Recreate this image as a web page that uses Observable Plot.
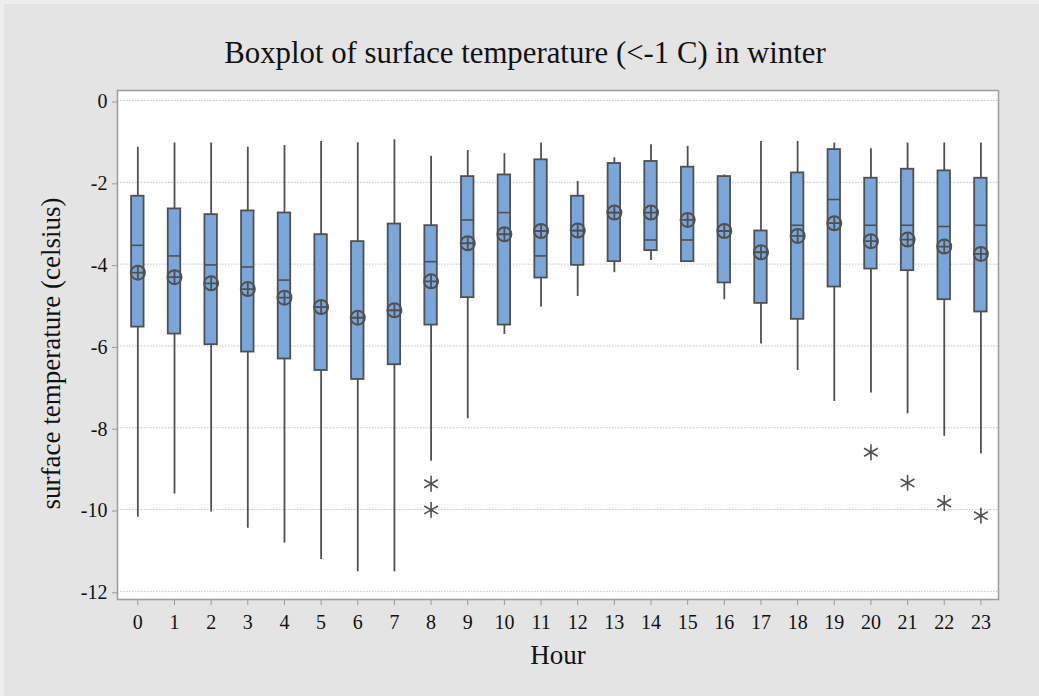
<!DOCTYPE html>
<html>
<head>
<meta charset="utf-8">
<script src="https://cdn.jsdelivr.net/npm/d3@7"></script>
<script src="https://cdn.jsdelivr.net/npm/@observablehq/plot@0.6"></script>
<style>
  html, body { margin: 0; padding: 0; overflow: hidden; }
  body { width: 1039px; height: 696px; background: #efefef; position: relative; }
  #page { position: absolute; left: 4px; top: 4px; width: 1035px; height: 692px; background: #e4e4e4; }
  #title { position: absolute; left: 0; top: 38px; width: 1050px; text-align: center;
           font-family: "Liberation Serif", serif; font-size: 30.8px; line-height: 30.8px; color: #111; }
  #chart { position: absolute; left: 0; top: 80px; }
  #chart svg { background: transparent; overflow: visible; }
</style>
</head>
<body>
<div id="page"></div>
<div id="title"></div>
<div id="chart"></div>
<script>
// ---- data ----
const hours = [0,1,2,3,4,5,6,7,8,9,10,11,12,13,14,15,16,17,18,19,20,21,22,23];
const whiskerHigh = [-1.14,-1.04,-1.04,-1.14,-1.10,-1.00,-1.03,-0.96,-1.36,-1.22,-1.30,-1.04,-1.98,-1.40,-1.08,-1.12,-1.82,-1.00,-1.00,-1.04,-1.18,-1.04,-1.04,-1.04];
const q3 = [-2.34,-2.65,-2.79,-2.70,-2.75,-3.28,-3.45,-3.02,-3.06,-1.86,-1.82,-1.45,-2.34,-1.54,-1.49,-1.63,-1.86,-3.19,-1.77,-1.20,-1.90,-1.68,-1.72,-1.90];
const median = [-3.54,-3.80,-4.02,-4.07,-4.39,-5.05,-5.31,-5.13,-3.94,-2.92,-2.74,-3.80,-3.18,-2.74,-3.41,-3.41,-3.19,-3.71,-3.05,-2.42,-3.05,-3.05,-3.08,-3.05];
const q1 = [-5.54,-5.71,-5.97,-6.15,-6.32,-6.60,-6.82,-6.46,-5.49,-4.82,-5.49,-4.34,-4.03,-3.94,-3.67,-3.94,-4.46,-4.96,-5.35,-4.56,-4.12,-4.16,-4.87,-5.17];
const whiskerLow = [-10.19,-9.62,-10.06,-10.46,-10.82,-11.22,-11.52,-11.52,-8.82,-7.78,-5.72,-5.05,-4.79,-4.21,-3.91,-3.94,-4.87,-5.95,-6.60,-7.36,-7.15,-7.66,-8.21,-8.64];
const mean = [-4.21,-4.32,-4.47,-4.61,-4.82,-5.05,-5.31,-5.13,-4.42,-3.49,-3.27,-3.19,-3.18,-2.74,-2.74,-2.92,-3.19,-3.71,-3.31,-3.00,-3.44,-3.40,-3.57,-3.75];
const outlierHour = [8, 8, 20, 21, 22, 23];
const outlierValue = [-9.37, -10.01, -8.60, -9.35, -9.84, -10.15];
const yTicks = [0, -2, -4, -6, -8, -10, -12];
const titleText = "Boxplot of surface temperature (<-1 C) in winter";
const xLabel = "Hour";
const yLabel = "surface temperature (celsius)";

// ---- build tables ----
const rows = hours.map((h, i) => ({hour: h, lo: whiskerLow[i], q1: q1[i], med: median[i], q3: q3[i], hi: whiskerHigh[i], mean: mean[i]}));
const outliers = outlierHour.map((h, i) => ({hour: h, value: outlierValue[i]}));
const half = 0.17;
const ink = "#505050";

const chart = Plot.plot({
  width: 1039,
  height: 616,
  marginTop: 10,
  marginBottom: 97,
  marginLeft: 117,
  marginRight: 41,
  style: {fontFamily: "Liberation Serif", background: "transparent", color: "#111", overflow: "visible"},
  x: {type: "linear", domain: [-0.555, 23.48]},
  y: {domain: [-12.2, 0.245]},
  marks: [
    Plot.frame({fill: "white", stroke: "none"}),
    Plot.gridY(yTicks, {stroke: "#c4c4c4", strokeOpacity: 1, strokeWidth: 1, strokeDasharray: "1.5,1.5"}),
    Plot.ruleX(rows, {x: "hour", y1: "lo", y2: "hi", stroke: ink, strokeWidth: 1.8}),
    Plot.rect(rows, {x1: d => d.hour - half, x2: d => d.hour + half, y1: "q1", y2: "q3", fill: "#7aa6da", stroke: ink, strokeWidth: 1.8}),
    Plot.ruleY(rows, {y: "med", x1: d => d.hour - half, x2: d => d.hour + half, stroke: ink, strokeWidth: 1.6}),
    Plot.dot(rows, {x: "hour", y: "mean", r: 7, symbol: "circle", fill: "none", stroke: ink, strokeWidth: 2}),
    Plot.dot(rows, {x: "hour", y: "mean", r: 4.6, symbol: "plus", stroke: ink, strokeWidth: 1.8}),
    Plot.dot(outliers, {x: "hour", y: "value", r: 7.5, symbol: "asterisk", stroke: ink, strokeWidth: 1.6}),
    Plot.frame({stroke: "#a0a0a0", strokeWidth: 1.6}),
    Plot.axisY({ticks: yTicks, tickSize: 5, tickPadding: 5, tickFormat: d => String(d), fontSize: 20, stroke: "#999", fill: "#111", label: null, dy: 1.5}),
    Plot.axisX({ticks: hours, tickSize: 6, tickPadding: 9, tickFormat: d => String(d), fontSize: 20, stroke: "#999", fill: "#111", label: null}),
    Plot.text([yLabel], {frameAnchor: "left", textAnchor: "middle", lineAnchor: "middle", rotate: -90, dx: -66.6, dy: 8.5, fontSize: 27, fill: "#111"}),
    Plot.text([xLabel], {frameAnchor: "bottom", textAnchor: "middle", lineAnchor: "middle", dy: 55.4, fontSize: 27, fill: "#111"})
  ]
});
document.getElementById("chart").appendChild(chart);
document.getElementById("title").textContent = titleText;
</script>
</body>
</html>
